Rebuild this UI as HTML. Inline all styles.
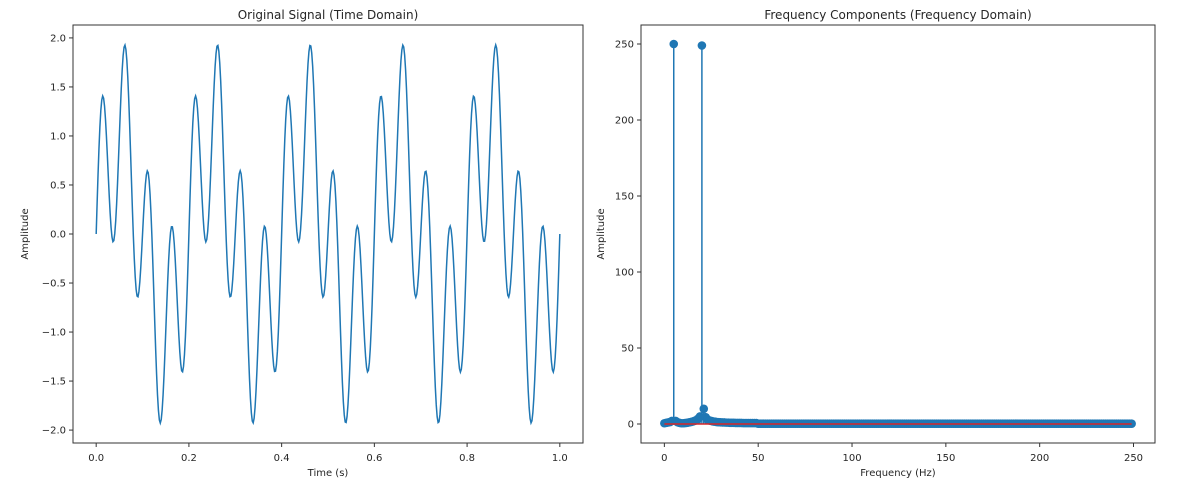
<!DOCTYPE html>
<html><head><meta charset="utf-8"><style>
body{margin:0;background:#fff;}
svg{display:block;font-family:"DejaVu Sans","Liberation Sans",sans-serif;}
</style></head><body>
<svg id="fig" width="1177" height="487" viewBox="0 0 1177 487"></svg>
<script>
// Time-domain signal components (Hz, amplitude)
const sigFreqs = [5, 20];
const sigAmps = [1, 1];
const sampleCount = 500;
const leftYTicks = [-2.0, -1.5, -1.0, -0.5, 0.0, 0.5, 1.0, 1.5, 2.0];
const leftXTicks = [0.0, 0.2, 0.4, 0.6, 0.8, 1.0];
// Frequency-domain magnitudes (bins 0..49; rest near zero)
const specHead = [0.5,0.8,1,1.3,2,250,2,1.2,0.8,0.5,0.5,0.6,0.8,1,1.3,1.6,2,2.6,3.5,5,249,10,4.5,3,2.3,2,1.7,1.5,1.3,1.2,1.1,1,1,0.9,0.9,0.8,0.8,0.8,0.7,0.7,0.7,0.7,0.6,0.6,0.6,0.6,0.6,0.6,0.6,0.6];
const specTailLevel = [0.2];
const rightYTicks = [0, 50, 100, 150, 200, 250];
const rightXTicks = [0, 50, 100, 150, 200, 250];

const NS="http://www.w3.org/2000/svg";
const svg=document.getElementById('fig');
function mk(tag,attrs,parent){const e=document.createElementNS(NS,tag);for(const k in attrs)e.setAttribute(k,attrs[k]);(parent||svg).appendChild(e);return e;}

// Left axes
const L={x0:73,x1:583,y0:25,y1:443,xmin:-0.05,xmax:1.05,ymin:-2.1317,ymax:2.1317};
const lx=v=>L.x0+(v-L.xmin)/(L.xmax-L.xmin)*(L.x1-L.x0);
const ly=v=>L.y1-(v-L.ymin)/(L.ymax-L.ymin)*(L.y1-L.y0);
// Right axes
const R={x0:641,x1:1155,y0:25,y1:443,xmin:-12.45,xmax:261.45,ymin:-12.5,ymax:262.5};
const rx=v=>R.x0+(v-R.xmin)/(R.xmax-R.xmin)*(R.x1-R.x0);
const ry=v=>R.y1-(v-R.ymin)/(R.ymax-R.ymin)*(R.y1-R.y0);

// Signal line
let d='';
for(let i=0;i<sampleCount;i++){
  const t=i/(sampleCount-1);
  let v=0;for(let k=0;k<sigFreqs.length;k++)v+=sigAmps[k]*Math.sin(2*Math.PI*sigFreqs[k]*t);
  d+=(i?'L':'M')+lx(t).toFixed(2)+' '+ly(v).toFixed(2);
}
const sl=mk('path',{d:d,fill:'none',stroke:'#1f77b4','stroke-width':1.5});



// Spectrum
const spec=specHead.slice();
for(let i=specHead.length;i<250;i++)spec.push(specTailLevel[0]);
const stems=mk('g',{});


spec.forEach((v,i)=>{
  const s=mk('line',{x1:rx(i),x2:rx(i),y1:ry(0),y2:ry(v),stroke:'#1f77b4','stroke-width':1.5},stems);
  
  
});
const base=mk('line',{x1:rx(0),x2:rx(249),y1:ry(0),y2:ry(0),stroke:'#d62728','stroke-width':1.5});


spec.forEach((v,i)=>{
  const c=mk('circle',{cx:rx(i),cy:ry(v),r:4.3,fill:'#1f77b4'},stems);
  
  
});

function axes(A,fx,fy,xt,yt,xfmt,yfmt,title,xl,yl,pre,ylx){
  const f=mk('rect',{x:A.x0,y:A.y0,width:A.x1-A.x0,height:A.y1-A.y0,fill:'none',stroke:'#333','stroke-width':1});
  
  
  xt.forEach(v=>{
    mk('line',{x1:fx(v),x2:fx(v),y1:A.y1,y2:A.y1+4,stroke:'#333'});
    const t=mk('text',{x:fx(v),y:A.y1+18,'text-anchor':'middle','font-size':10,fill:'#262626'});
    t.textContent=xfmt(v);
    
    
  });
  yt.forEach(v=>{
    mk('line',{x1:A.x0-4,x2:A.x0,y1:fy(v),y2:fy(v),stroke:'#333'});
    const t=mk('text',{x:A.x0-7,y:fy(v)+3.5,'text-anchor':'end','font-size':10,fill:'#262626'});
    t.textContent=yfmt(v);
    
    
  });
  const tt=mk('text',{x:(A.x0+A.x1)/2,y:A.y0-6,'text-anchor':'middle','font-size':12,fill:'#262626'});
  tt.textContent=title;
  
  
  const xa=mk('text',{x:(A.x0+A.x1)/2,y:A.y1+33,'text-anchor':'middle','font-size':10,fill:'#262626'});
  xa.textContent=xl;
  
  
  const ya=mk('text',{x:ylx,y:(A.y0+A.y1)/2,'text-anchor':'middle','font-size':10,fill:'#262626',transform:`rotate(-90 ${ylx} ${(A.y0+A.y1)/2})`});
  ya.textContent=yl;
  
  
}
const minus=s=>s.replace('-','\u2212');
axes(L,lx,ly,leftXTicks,leftYTicks,v=>v.toFixed(1),v=>minus(v.toFixed(1)),'Original Signal (Time Domain)','Time (s)','Amplitude','left-',28);
axes(R,rx,ry,rightXTicks,rightYTicks,v=>String(v),v=>String(v),'Frequency Components (Frequency Domain)','Frequency (Hz)','Amplitude','right-',604);
</script>
</body></html>
